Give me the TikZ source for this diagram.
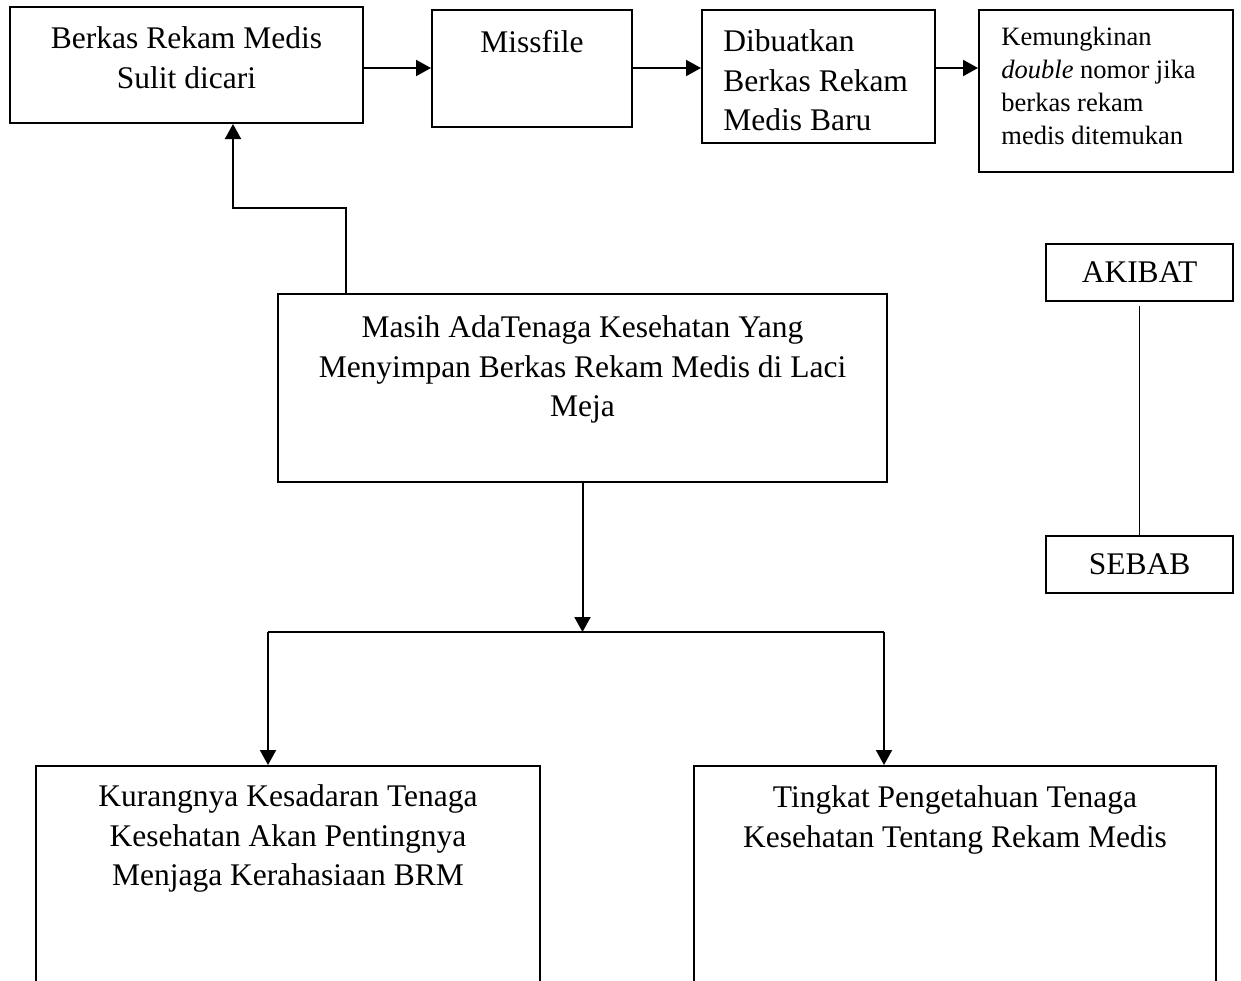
\documentclass[tikz,border=0pt]{standalone}
\usepackage{fontspec}
\setmainfont{Liberation Serif}
\usetikzlibrary{arrows.meta}
\tikzset{
  box/.style={draw, line width=1pt, inner sep=0pt},
  txt/.style={inner sep=0pt, font=\fontsize{15.75}{19.75}\selectfont},
  smalltxt/.style={inner sep=0pt, font=\fontsize{13.25}{16.5}\selectfont},
  arr/.style={line width=1pt, -{Triangle[length=7.5pt,width=8pt]}},
  thinline/.style={line width=0.6pt}
}
\begin{document}
\begin{tikzpicture}[x=0.5pt,y=-0.5pt]
\useasboundingbox (0,0) rectangle (1241,980);
\clip (0,0) rectangle (1241,980);
% boxes
\node[box, minimum width=176.5pt, minimum height=58pt] (b1) at (186.5,65) {};
\node[box, minimum width=100pt, minimum height=58.5pt] (b2) at (532,68.5) {};
\node[box, minimum width=116.5pt, minimum height=66.5pt] (b3) at (818.5,76.5) {};
\node[box, minimum width=127pt, minimum height=81pt] (b4) at (1106,91) {};
\node[box, txt, minimum width=93.5pt, minimum height=28.5pt] (akibat) at (1139.5,272.5) {AKIBAT};
\node[box, txt, minimum width=93.5pt, minimum height=28.5pt] (sebab) at (1139.5,564.5) {SEBAB};
\node[box, minimum width=304.5pt, minimum height=94pt] (main) at (582.5,388) {};
\node[box, minimum width=252pt, minimum height=122pt] (lb) at (288,888) {};
\node[box, minimum width=261pt, minimum height=122pt] (rb) at (955,888) {};
% texts
\node[txt, anchor=north, align=center] (t1) at (186.5,26.6) {Berkas Rekam Medis\\Sulit dicari};
\node[txt, anchor=north, align=center] (t2) at (532,29.6) {Missfile};
\node[txt, anchor=north west, align=left] (t3) at (723,29.6) {Dibuatkan\\Berkas Rekam\\Medis Baru};
\node[smalltxt, anchor=north west, align=left] (t4) at (1001,26.9) {Kemungkinan\\\textit{double} nomor jika\\berkas rekam\\medis ditemukan};
\node[txt, anchor=north, align=center] (tm) at (582.5,315.6) {Masih AdaTenaga Kesehatan Yang\\Menyimpan Berkas Rekam Medis di Laci\\Meja};
\node[txt, anchor=north, align=center] (tl) at (288,784.6) {Kurangnya Kesadaran Tenaga\\Kesehatan Akan Pentingnya\\Menjaga Kerahasiaan BRM};
\node[txt, anchor=north, align=center] (tr) at (955,785.6) {Tingkat Pengetahuan Tenaga\\Kesehatan Tentang Rekam Medis};
% helper coordinates
\coordinate (r1) at (0,68);
\coordinate (u1) at (346,208);
\coordinate (u2) at (233,208);
\coordinate (bl) at (268,632);
\coordinate (bR) at (884,632);
% connectors
\draw[arr] (b1.east |- r1) -- (b2.west |- r1);
\draw[arr] (b2.east |- r1) -- (b3.west |- r1);
\draw[arr] (b3.east |- r1) -- (b4.west |- r1);
\draw[arr] (u1 |- main.north) -- (u1) -- (u2) -- (u2 |- b1.south);
\draw[arr] (main.south) -- (main.south |- bl);
\draw[thinline] (bl) -- (bR);
\draw[arr] (bl) -- (bl |- lb.north);
\draw[arr] (bR) -- (bR |- rb.north);
\draw[thinline, shorten <=2pt] (akibat.south) -- (sebab.north);
\end{tikzpicture}
\end{document}
